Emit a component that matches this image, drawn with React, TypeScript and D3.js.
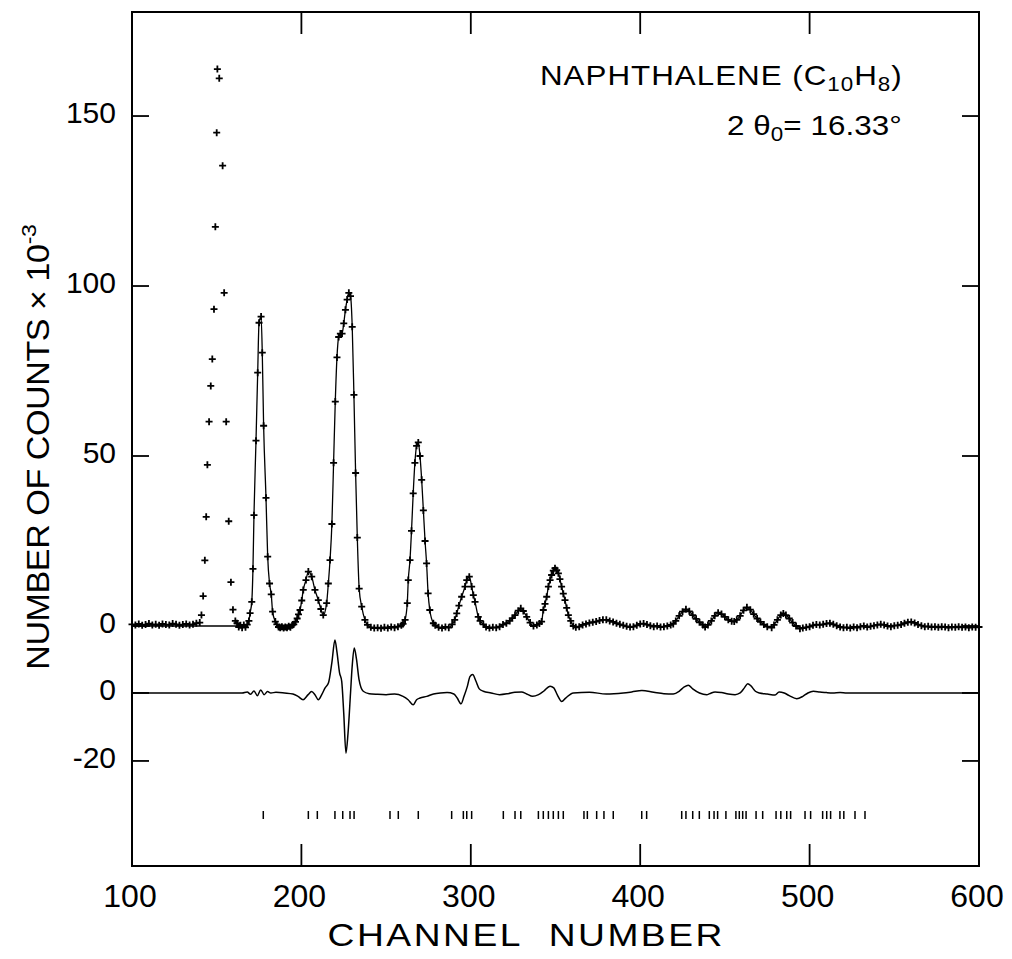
import React from "react";
import * as d3 from "d3";

// ---------------- data (counts x 10^-3) ----------------
const obsChannel: number[] = [
  100, 102, 104, 106, 108, 110, 112, 114, 116, 118, 120, 122, 124, 126, 128, 130, 132, 134, 136, 138, 140,
  141, 142, 143, 143.8, 144.5, 145.5, 146.5, 147.4, 148.4, 149.2, 150, 150.4, 151.5, 153.5, 154.4, 155.6, 157.1, 158.4, 159.6, 161,
  162, 163, 164, 165, 166, 167, 168, 169,
  169.7, 170.7, 171.4, 172, 173.2, 174.2, 175, 176.2, 176.9, 177.7, 179.1, 180.1, 181.2, 182.2, 183, 184.6,
  185.5, 186.5, 187.5, 188.5, 189.5, 190.5, 191.5, 192.5, 193.5, 194.5, 195.5, 196.5, 197.5, 198.3,
  199.2, 200.2, 201.1, 202.7, 204.1, 206.1, 208, 210, 211.5, 212.9, 214.9, 215.9, 216.9,
  218, 219, 220, 221, 222, 223, 224, 225, 226, 227, 228, 229, 230, 231, 232, 233, 234.1, 235.6, 237.5,
  239, 241, 243, 245, 247, 249, 251, 253, 255, 257, 259, 260, 261.2,
  262.5, 263.1, 264.1, 265, 266, 267, 268, 269, 270, 271, 272, 273, 273.9, 274.8, 275.8, 277.9,
  279, 281, 283, 285, 287, 289,
  290.5, 291.7, 293, 294.6, 296.6, 297.6, 299.1, 300.5, 301.5, 302.5, 304.4, 305.5, 307.4,
  309, 311, 313, 315, 317, 319, 321,
  323, 324.5, 326.1, 328, 329.5, 331, 333, 335, 337,
  339, 340.5, 341.8, 342.8, 343.8, 344.8, 345.8, 346.8, 347.7, 348.7, 349.7, 350.7, 351.7, 352.6, 353.6, 354.6, 355.6, 356.6, 357.6, 359, 360.5,
  362, 364, 366, 368, 370, 372, 374, 376, 378, 380, 382, 384, 386, 388, 390, 392, 394, 396, 398, 400, 402, 404, 406, 408, 410, 412, 414, 416, 418,
  419.5, 421, 423, 425, 427, 429, 431, 433, 435, 437, 438.3,
  440, 442, 444, 446, 448, 450, 452, 454, 455.5, 457,
  459, 461, 463, 465, 467, 469, 471, 473, 475, 477.6,
  479, 481, 483, 484.5, 486, 488, 490, 492, 494.3, 496, 498, 500,
  502, 504, 506, 508, 510, 512, 514, 516, 518, 520, 522, 524, 526, 528, 530, 532, 534, 536, 538, 540,
  542, 544, 546, 548, 550, 552, 554, 556, 558, 560, 562, 564, 566, 568, 570, 572, 574, 576, 578, 580,
  582, 584, 586, 588, 590, 592, 594, 596, 598, 600,
];
const obsCount: number[] = [
  0.5, 0.3, 0.6, 0.2, 0.4, 0.7, 0.3, 0.5, 0.2, 0.6, 0.4, 0.3, 0.7, 0.5, 0.2, 0.4, 0.6, 0.3, 0.5, 0.8, 1.0,
  3.2, 8.8, 19.3, 32.1, 47.4, 60.1, 70.6, 78.5, 93.2, 117.4, 145.1, 163.8, 161.1, 135.4, 98.0, 60.1, 30.8, 12.9, 4.8, 1.5,
  0.8, -0.3, 0.2, -0.5, 0.3, -0.4, 0.4, 1.5,
  3.8, 7.1, 16.8, 32.6, 54.5, 74.5, 89.2, 91.0, 80.4, 58.9, 37.7, 20.4, 12.5, 9.3, 4.2, 1.3,
  0.5, -0.3, -0.5, -0.2, -0.6, -0.3, -0.5, -0.1, -0.4, 0.2, 0.5, 1.2, 2.2, 3.4,
  4.7, 7.5, 10.6, 13.5, 16.0, 14.5, 10.6, 7.6, 5.0, 3.2, 6.7, 12.5, 19.4,
  30, 48, 66, 79, 85, 86, 86, 89, 93, 96, 98, 97, 88, 68, 45, 26, 11, 5.7, 1.8,
  0.3, -0.4, -0.6, -0.5, -0.7, -0.4, -0.6, -0.3, -0.5, -0.2, 0.2, 0.6, 1.8,
  6.7, 13.5, 19.4, 28, 39, 48, 53, 54, 50, 43, 34, 25, 18.4, 9.6, 4.7, 0.8,
  0.2, -0.4, -0.6, -0.3, -0.5, 0.5,
  1.8, 3.7, 6.0, 8.6, 11.6, 13.5, 14.5, 11.6, 9.1, 7.1, 2.7, 1.5, 0.5,
  -0.3, -0.6, -0.4, -0.5, -0.2, 0.4, 0.8,
  1.5, 2.3, 3.2, 4.5, 5.2, 4.4, 2.7, 1.0, 0.0,
  0.3, 0.7, 1.3, 4.7, 6.5, 8.6, 11.6, 13.5, 15.0, 16.3, 17.0, 16.4, 15.5, 13.8, 11.6, 9.5, 7.6, 5.3, 3.2, 1.5, 0.0,
  -0.4, -0.2, 0.3, 0.6, 0.9, 1.1, 1.3, 1.6, 1.8, 1.8, 1.5, 1.2, 0.8, 0.5, 0.2, -0.1, -0.3, -0.2, 0.2, 0.6, 0.7, 0.4, 0.1, -0.2, 0.0, -0.3, -0.2, 0.0, 0.3,
  0.6, 1.5, 3.0, 4.2, 4.9, 4.3, 3.2, 2.1, 1.1, 0.3, -0.3,
  0.3, 1.5, 3.0, 3.9, 3.5, 2.7, 1.8, 1.4, 1.3, 1.8,
  3.0, 4.6, 5.5, 4.8, 3.5, 2.2, 1.2, 0.4, -0.2, -0.5,
  0.3, 1.8, 3.2, 3.7, 3.2, 2.2, 1.0, 0.0, -0.8, -0.6, -0.4, -0.2,
  0.2, 0.4, 0.3, 0.5, 0.7, 0.8, 0.5, 0.1, -0.3, -0.5, -0.4, -0.6, -0.3, -0.5, -0.2, 0.0, -0.3, -0.1, 0.1, 0.3,
  0.5, 0.3, 0.0, -0.2, 0.1, 0.2, 0.4, 0.8, 1.1, 1.2, 0.9, 0.4, 0.1, -0.2, -0.1, -0.3, -0.2, -0.4, -0.2, -0.3,
  -0.5, -0.3, -0.4, -0.2, -0.4, -0.3, -0.5, -0.3, -0.4, -0.3,
];

// calculated profile is excluded (held at zero) below this channel
const fitStartChannel = 165;

// difference curve (observed - calculated), counts x 10^-3
const diffChannel: number[] = [
  100, 165, 168, 170, 172, 174, 176, 178, 180, 182, 185, 190, 195, 198, 201, 204, 206, 208, 210, 212, 214, 216, 218,
  219.8, 221, 222.5, 223.8, 225, 226.3, 227.5, 229, 230, 231.2, 232.5, 234, 236.5, 240, 245, 250, 255, 260, 263, 266,
  268, 270, 274, 278, 282, 286, 290, 292, 294.2, 296, 298, 299.5, 301.1, 303, 305, 307.4, 312, 317, 322, 326, 330,
  333, 336.5, 340, 343, 346.8, 349, 351, 353.7, 356, 360.5, 370, 380, 390, 395, 401, 408, 414, 419.5, 423, 426,
  428.4, 431, 435, 439.3, 441, 444.2, 448, 452, 456, 459, 461.5, 463.5, 465.5, 468, 470.3, 475, 479.6, 482, 485,
  488, 492.4, 496, 499, 502.2, 506, 510, 513.6, 518, 521.9, 600,
];
const diffCount: number[] = [
  0, 0, 0.3, -0.4, 0.6, -0.8, 0.9, -0.5, 0.4, 0, 0.2, 0, -0.3, -1, -2, -0.5, 0.4, -0.5, -2, -0.5, 1.5, 3, 9,
  15.6, 12, 6, 3.4, -6, -17.7, -12, 0, 8, 13.2, 10, 4, 0.5, -0.2, -0.4, -0.5, -0.3, -1, -2, -3.5,
  -2, -1.5, -1, -0.3, 0, 0.1, -0.3, -1.5, -3.2, -1, 2, 4.8, 5.4, 3.5, 1.2, 0.5, 0, -0.5, -0.2, 0.2, 0.3,
  -0.3, -1, -0.5, 0.5, 2, 1.5, -0.5, -2.5, -1.5, 0, 0.2, -0.3, 0, 0.3, 0.7, 0.2, -0.2, -0.3, 0.5, 1.8,
  2.3, 1.2, 0, -0.5, -0.2, 0.3, 0.1, -0.3, -0.5, 0, 1.5, 2.7, 2, 0.5, 0, -0.3, -0.6, 0.3, 0,
  -0.8, -1.7, -1, 0, 0.5, 0.3, 0.1, 0, 0.1, 0, 0,
];

// Bragg reflection positions (channel)
const reflections: number[] = [
  177.5, 204.1, 209.4, 219.8, 224.4, 228.7, 231.1, 252.3, 257.2, 269.0, 288.7, 295.6, 297.6, 300.5,
  319.2, 326.1, 329.5, 339.9, 342.8, 345.8, 348.7, 351.7, 354.6, 366.8, 368.8, 374.3, 378.6, 384.1,
  400.9, 403.8, 424.5, 427.0, 431.0, 434.9, 440.8, 443.6, 445.7, 450.6, 456.5, 458.5, 460.5, 462.5,
  468.4, 472.3, 480.2, 483.0, 486.5, 488.8, 497.3, 500.6, 507.7, 510.1, 512.4, 517.9, 520.2, 526.8, 532.7,
];

const xTicks: number[] = [100, 200, 300, 400, 500, 600];
const yTicksUpper: number[] = [0, 50, 100, 150];
const yTicksDiff: number[] = [0, -20];

// ---------------- layout ----------------
const W = 1012;
const H = 959;
const left = 132;
const right = 979;
const top = 12;
const bottom = 866;
const diffOffset = -19.7; // vertical placement of the difference curve
const reflectionLevel = -55.6;
const FONT = "'Liberation Sans', Arial, sans-serif";

export default function App() {
  const x = d3.scaleLinear().domain([100, 600]).range([left, right]);
  const y = d3.scaleLinear().domain([-70.6, 180.6]).range([bottom, top]);

  const obs = obsChannel.map((c, i) => ({ c, v: obsCount[i] }));
  const calcPts = [{ c: 100, v: 0 }, { c: fitStartChannel, v: 0 }, ...obs.filter((p) => p.c > fitStartChannel)];
  const line = d3
    .line<{ c: number; v: number }>()
    .x((d) => x(d.c))
    .y((d) => y(d.v))
    .curve(d3.curveMonotoneX);

  const diff = diffChannel.map((c, i) => ({ c, v: diffCount[i] + diffOffset }));

  const arm = 3.5;
  const plusPath = obs
    .map((p) => {
      const px = x(p.c);
      const py = y(p.v);
      return `M${px - arm},${py}h${2 * arm}M${px},${py - arm}v${2 * arm}`;
    })
    .join("");

  const yTickLen = 17;
  const xTickLen = 22;

  const yTickAll = [
    ...yTicksUpper.map((t) => ({ v: t, label: String(t) })),
    ...yTicksDiff.map((t) => ({ v: t + diffOffset, label: t < 0 ? "-" + Math.abs(t) : String(t) })),
  ];

  return (
    <svg width={W} height={H} style={{ position: "absolute", left: 0, top: 0, background: "#fff" }}>
      <rect x={0} y={0} width={W} height={H} fill="#fff" />
      {/* frame */}
      <rect x={left} y={top} width={right - left} height={bottom - top} fill="none" stroke="#000" strokeWidth={2} />
      {/* y ticks both sides */}
      {yTickAll.map((t, i) => (
        <g key={"yt" + i}>
          <line x1={left} x2={left + yTickLen} y1={y(t.v)} y2={y(t.v)} stroke="#000" strokeWidth={1.8} />
          <line x1={right} x2={right - yTickLen} y1={y(t.v)} y2={y(t.v)} stroke="#000" strokeWidth={1.8} />
          <text x={116} y={y(t.v) + 7} textAnchor="end" fontFamily={FONT} fontSize={30}>
            {t.label}
          </text>
        </g>
      ))}
      {/* x ticks top & bottom */}
      {xTicks.map((t) => (
        <g key={"xt" + t}>
          {t > 100 && t < 600 && (
            <>
              <line x1={x(t)} x2={x(t)} y1={bottom} y2={bottom - xTickLen} stroke="#000" strokeWidth={1.8} />
              <line x1={x(t)} x2={x(t)} y1={top} y2={top + xTickLen} stroke="#000" strokeWidth={1.8} />
            </>
          )}
          <text x={x(t) - 2} y={907} textAnchor="middle" fontFamily={FONT} fontSize={32}>
            {String(t)}
          </text>
        </g>
      ))}
      {/* calculated profile */}
      <path d={line(calcPts) || ""} fill="none" stroke="#000" strokeWidth={1.3} />
      {/* observed points */}
      <path d={plusPath} fill="none" stroke="#000" strokeWidth={1.8} />
      {/* difference curve */}
      <path d={line(diff) || ""} fill="none" stroke="#000" strokeWidth={1.5} />
      {/* reflection markers */}
      {reflections.map((r, i) => (
        <line
          key={"rf" + i}
          x1={x(r)}
          x2={x(r)}
          y1={y(reflectionLevel) - 4}
          y2={y(reflectionLevel) + 4}
          stroke="#000"
          strokeWidth={1.5}
        />
      ))}
      {/* annotation */}
      <g transform="translate(540,85) scale(1.12,1)">
        <text x={0} y={0} fontFamily={FONT} fontSize={28} textLength={323} lengthAdjust="spacing">
          NAPHTHALENE (C
          <tspan fontSize={20} dy={6}>10</tspan>
          <tspan dy={-6}>H</tspan>
          <tspan fontSize={20} dy={6}>8</tspan>
          <tspan dy={-6}>)</tspan>
        </text>
      </g>
      <g transform="translate(727,135) scale(1.12,1)">
        <text x={0} y={0} fontFamily={FONT} fontSize={28} textLength={156} lengthAdjust="spacing">
          2 θ
          <tspan fontSize={20} dy={6}>0</tspan>
          <tspan dy={-6}>= 16.33°</tspan>
        </text>
      </g>
      {/* axis titles */}
      <g transform="translate(49,447) rotate(-90) scale(1.1,1)">
        <text x={0} y={0} textAnchor="middle" fontFamily={FONT} fontSize={31} textLength={405} lengthAdjust="spacing">
          NUMBER OF COUNTS × 10
          <tspan fontSize={21} dy={-13}>-3</tspan>
        </text>
      </g>
      <g transform="translate(525,946) scale(1.2,1)">
        <text x={0} y={0} textAnchor="middle" fontFamily={FONT} fontSize={31} textLength={329} lengthAdjust="spacing">
          {"CHANNEL\u00a0\u00a0NUMBER"}
        </text>
      </g>
    </svg>
  );
}
